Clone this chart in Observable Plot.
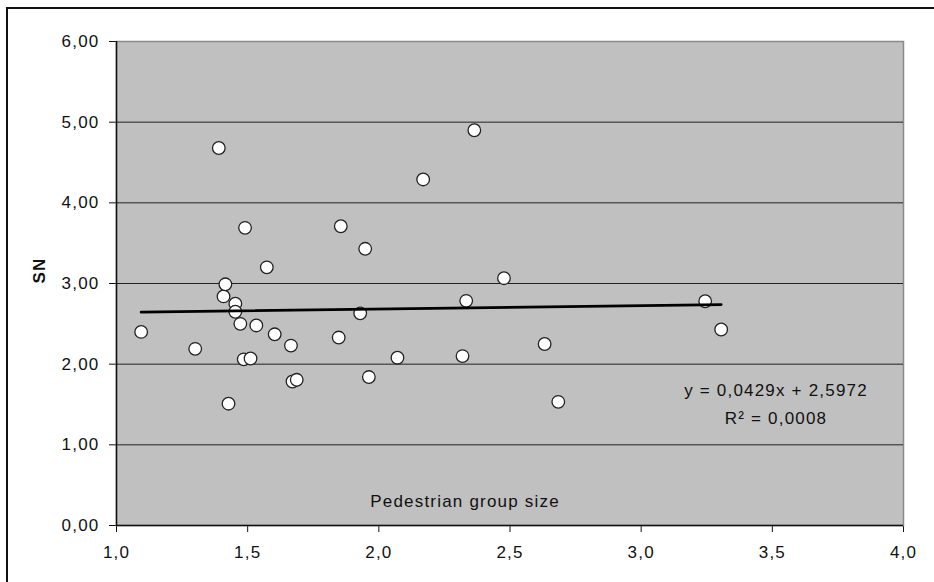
<!DOCTYPE html>
<html>
<head>
<meta charset="utf-8">
<script src="https://cdn.jsdelivr.net/npm/d3@7"></script>
<script src="https://cdn.jsdelivr.net/npm/@observablehq/plot@0.6"></script>
<style>
  html, body { margin: 0; padding: 0; background: #fff; }
  #wrap { position: relative; width: 934px; height: 582px; overflow: hidden; }
  #border { position: absolute; left: 6px; top: 7px; width: 2000px; height: 2000px;
            border-left: 2px solid #111; border-top: 2px solid #111; pointer-events: none; }
</style>
</head>
<body>
<div id="wrap"><div id="border"></div></div>
<script>
// Pedestrian group size (x) and SN (y)
const groupSize = [1.094, 1.30, 1.39, 1.408, 1.415, 1.427, 1.453, 1.453, 1.472, 1.485, 1.49, 1.511, 1.533, 1.573, 1.603, 1.665, 1.671, 1.687, 1.847, 1.855, 1.929, 1.948, 1.962, 2.071, 2.169, 2.319, 2.333, 2.364, 2.477, 2.632, 2.684, 3.244, 3.305];
const snValues  = [2.40, 2.19, 4.68, 2.84, 2.99, 1.51, 2.75, 2.65, 2.50, 2.06, 3.69, 2.07, 2.48, 3.20, 2.37, 2.23, 1.785, 1.806, 2.33, 3.71, 2.63, 3.43, 1.84, 2.08, 4.29, 2.10, 2.785, 4.90, 3.066, 2.25, 1.533, 2.78, 2.43];

// Linear trendline as displayed on the chart
const slope = 0.0429;
const intercept = 2.5972;
const equationText = "y = 0,0429x + 2,5972";
const r2Text = "R² = 0,0008";

const xTicks = [1.0, 1.5, 2.0, 2.5, 3.0, 3.5, 4.0];
const yTicks = [0, 1, 2, 3, 4, 5, 6];
const gridValues = [1, 2, 3, 4, 5];
const xLabel = "Pedestrian group size";
const yLabel = "SN";

const points = groupSize.map((x, i) => ({x, y: snValues[i]}));
const trend = d3.extent(groupSize).map(x => ({x, y: slope * x + intercept}));

const comma = (v, d) => v.toFixed(d).replace(".", ",");

const chart = Plot.plot({
  width: 934,
  height: 582,
  marginLeft: 116,
  marginRight: 31,
  marginTop: 41,
  marginBottom: 57,
  style: {
    fontFamily: "'Liberation Sans', Arial, sans-serif",
    fontSize: "17px",
    letterSpacing: "1.2px",
    color: "#111",
    background: "transparent",
    overflow: "visible"
  },
  x: {domain: [1, 4], ticks: xTicks, tickFormat: d => comma(d, 1), tickSize: 7, tickPadding: 13, label: null, line: false},
  y: {domain: [0, 6], ticks: yTicks, tickFormat: d => comma(d, 2), tickSize: 7, tickPadding: 10, label: null, line: false},
  marks: [
    Plot.frame({fill: "#c0c0c0", stroke: "#8a8a8a", strokeWidth: 1.5}),
    Plot.gridY(gridValues, {stroke: "#222", strokeOpacity: 1, strokeWidth: 1}),
    Plot.ruleX([1], {stroke: "#111", strokeWidth: 1.5}),
    Plot.ruleY([0], {stroke: "#111", strokeWidth: 1.5}),
    Plot.dot(points, {x: "x", y: "y", r: 6.3, fill: "#fff", stroke: "#222", strokeWidth: 1.3}),
    Plot.line(trend, {x: "x", y: "y", stroke: "#000", strokeWidth: 2.8}),
    Plot.text([xLabel], {frameAnchor: "top", dx: -45, dy: 460, text: d => d, fill: "#111", lineAnchor: "middle"}),
    Plot.text([equationText], {frameAnchor: "top", dx: 266, dy: 349, text: d => d, fill: "#111", lineAnchor: "middle"}),
    Plot.text([r2Text], {frameAnchor: "top", dx: 266, dy: 377, text: d => d, fill: "#111", lineAnchor: "middle"}),
    Plot.text([yLabel], {frameAnchor: "left", dx: -77, text: d => d, rotate: -90, fontWeight: "bold", fill: "#111", lineAnchor: "middle"})
  ]
});
chart.style.position = "absolute";
chart.style.left = "0";
chart.style.top = "0";
document.getElementById("wrap").insertBefore(chart, document.getElementById("border"));
</script>
</body>
</html>
